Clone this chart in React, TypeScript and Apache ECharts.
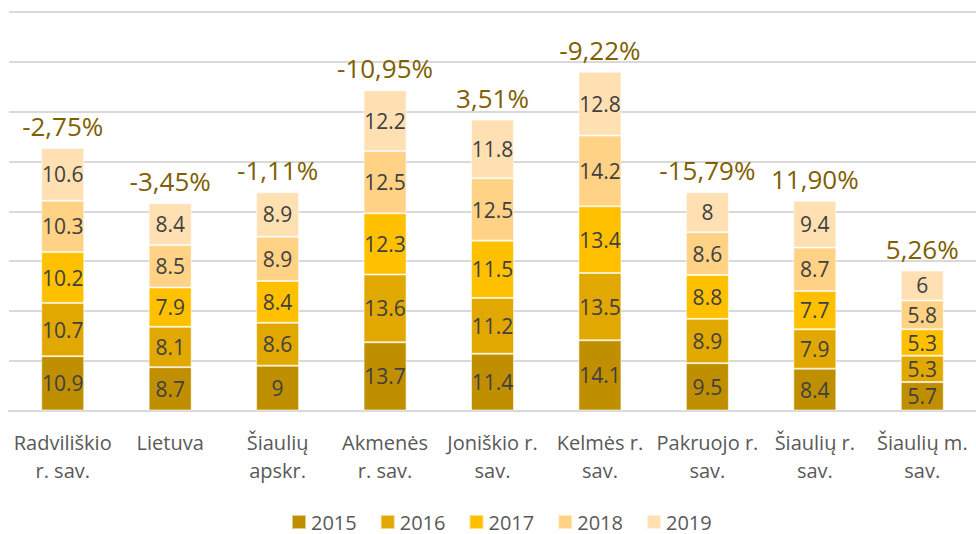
import React, { useEffect, useRef } from "react";
import * as echarts from "echarts";

const categories = [
  "Radviliškio\nr. sav.",
  "Lietuva",
  "Šiaulių\napskr.",
  "Akmenės\nr. sav.",
  "Joniškio r.\nsav.",
  "Kelmės r.\nsav.",
  "Pakruojo r.\nsav.",
  "Šiaulių r.\nsav.",
  "Šiaulių m.\nsav.",
];
const years = ["2015", "2016", "2017", "2018", "2019"];
const v2015 = [10.9, 8.7, 9, 13.7, 11.4, 14.1, 9.5, 8.4, 5.7];
const v2016 = [10.7, 8.1, 8.6, 13.6, 11.2, 13.5, 8.9, 7.9, 5.3];
const v2017 = [10.2, 7.9, 8.4, 12.3, 11.5, 13.4, 8.8, 7.7, 5.3];
const v2018 = [10.3, 8.5, 8.9, 12.5, 12.5, 14.2, 8.6, 8.7, 5.8];
const v2019 = [10.6, 8.4, 8.9, 12.2, 11.8, 12.8, 8, 9.4, 6];
const changes = ["-2,75%", "-3,45%", "-1,11%", "-10,95%", "3,51%", "-9,22%", "-15,79%", "11,90%", "5,26%"];
const colors = ["#BF8F00", "#E0A800", "#FFC000", "#FFD285", "#FFE0B3"];

const FONT = "'Open Sans', sans-serif";

export default function App() {
  const ref = useRef<HTMLDivElement>(null);
  useEffect(() => {
    if (!ref.current) return;
    const chart = echarts.init(ref.current, null, { renderer: "svg" });
    const values = [v2015, v2016, v2017, v2018, v2019];
    const series: any[] = years.map((y, i) => ({
      name: y,
      type: "bar",
      stack: "total",
      barWidth: 43,
      data: values[i],
      itemStyle: { color: colors[i], borderColor: "rgba(255,255,255,0.55)", borderWidth: 1 },
      label: {
        show: true,
        position: "inside",
        color: "#404040",
        fontFamily: FONT,
        fontSize: 21,
      },
    }));
    series.push({
      name: "change",
      type: "bar",
      stack: "total",
      barWidth: 43,
      data: changes.map(() => 0),
      itemStyle: { color: "transparent" },
      label: {
        show: true,
        position: "top",
        distance: 9,
        color: "#7F6000",
        fontFamily: FONT,
        fontSize: 26,
        formatter: (p: any) => changes[p.dataIndex],
      },
    });
    chart.setOption({
      animation: false,
      textStyle: { fontFamily: FONT },
      grid: { left: 9, top: 12, width: 973, height: 398.5, containLabel: false },
      legend: {
        data: years,
        left: 291,
        top: 512,
        icon: "rect",
        itemWidth: 14,
        itemHeight: 14,
        itemGap: 23,
        padding: 0,
        textStyle: { color: "#595959", fontSize: 20, lineHeight: 20, fontFamily: FONT },
      },
      xAxis: {
        type: "category",
        data: categories,
        axisLine: { lineStyle: { color: "#D9D9D9", width: 2 } },
        axisTick: { show: false },
        axisLabel: {
          color: "#595959",
          fontSize: 20,
          fontFamily: FONT,
          lineHeight: 28,
          margin: 18,
          interval: 0,
        },
      },
      yAxis: {
        type: "value",
        min: 0,
        max: 80,
        interval: 10,
        axisLabel: { show: false },
        axisLine: { show: false },
        axisTick: { show: false },
        splitLine: { lineStyle: { color: "#D9D9D9", width: 2 } },
      },
      series,
    });
    return () => chart.dispose();
  }, []);
  return (
    <div
      ref={ref}
      style={{ position: "absolute", left: 0, top: 0, width: 976, height: 534 }}
    />
  );
}
